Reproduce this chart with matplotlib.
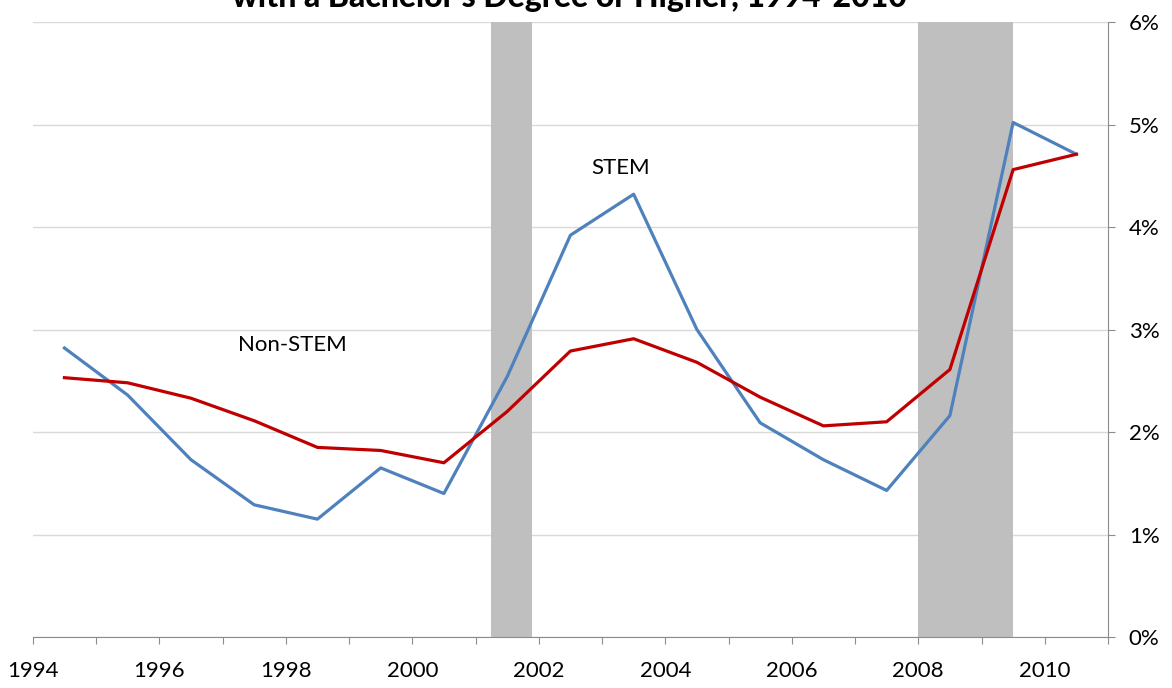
import numpy as np
import matplotlib.pyplot as plt

# Unemployment rates, STEM vs non-STEM workers (values read at mid-year)
years = [1994.5, 1995.5, 1996.5, 1997.5, 1998.5, 1999.5, 2000.5, 2001.5, 2002.5,
         2003.5, 2004.5, 2005.5, 2006.5, 2007.5, 2008.5, 2009.5, 2010.5]
stem = [2.82, 2.36, 1.73, 1.29, 1.15, 1.65, 1.40, 2.54, 3.92,
        4.32, 3.00, 2.09, 1.73, 1.43, 2.16, 5.02, 4.71]
non_stem = [2.53, 2.48, 2.33, 2.11, 1.85, 1.82, 1.70, 2.20, 2.79,
            2.91, 2.68, 2.34, 2.06, 2.10, 2.61, 4.56, 4.71]

# recession periods
recessions = [(2001.25, 2001.9), (2008.0, 2009.5)]

tick_years = list(range(1994, 2012))
tick_labels = [str(y) if y % 2 == 0 and y <= 2010 else '' for y in tick_years]

plt.rcParams['font.family'] = ['Lato', 'DejaVu Sans']

fig = plt.figure(figsize=(11.72, 6.88), dpi=100)
ax = fig.add_axes([0.028, 0.0741, 0.9174, 0.8939])

for a, b in recessions:
    ax.axvspan(a, b, color='#BFBFBF', zorder=1, lw=0)

ax.plot(years, stem, color='#4F81BD', lw=2.3, zorder=3)
ax.plot(years, non_stem, color='#C00000', lw=2.3, zorder=4)

ax.text(2003.3, 4.58, 'STEM', fontsize=16, ha='center', va='center')
ax.text(1998.1, 2.85, 'Non-STEM', fontsize=16, ha='center', va='center')

ax.set_xlim(1994, 2011)
ax.set_ylim(0, 6)
ax.set_xticks(tick_years)
ax.set_xticklabels(tick_labels, fontsize=16)
ax.set_yticks(range(0, 7))
ax.set_yticklabels(['%d%%' % v for v in range(0, 7)], fontsize=16)
ax.yaxis.tick_right()

ax.grid(axis='y', color='#D9D9D9', lw=1, zorder=0)
ax.set_axisbelow(True)
for s in ['left', 'top']:
    ax.spines[s].set_visible(False)
for s in ['right', 'bottom']:
    ax.spines[s].set_color('#8C8C8C')
ax.tick_params(axis='x', length=5, color='#8C8C8C', pad=12)
ax.tick_params(axis='y', length=5, color='#8C8C8C', pad=10)

# title is partly above the top edge, as in the original
fig.text(0.486, 1.003, "with a Bachelor's Degree or Higher, 1994-2010",
         fontsize=23, fontweight='black', ha='center', va='center')

fig.savefig('out.png', dpi=100)
